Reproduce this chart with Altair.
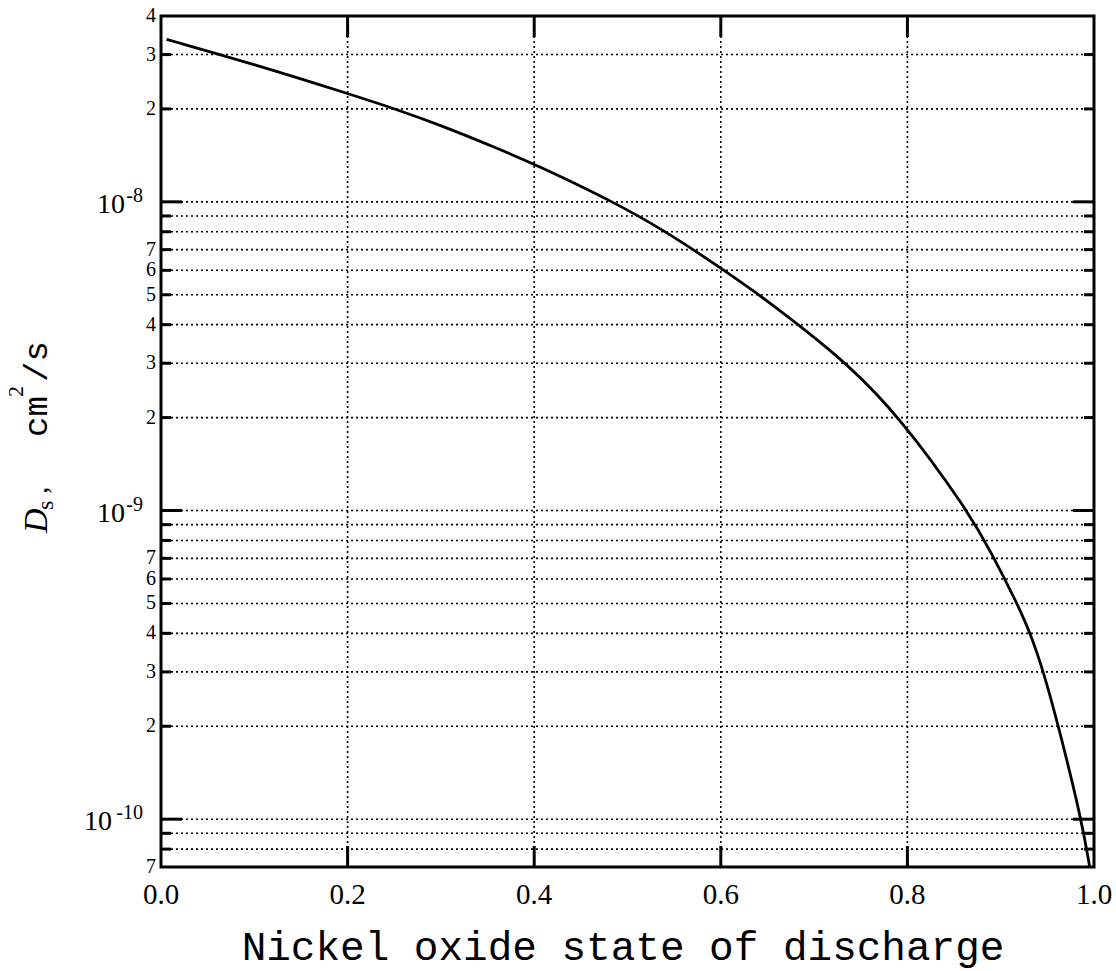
import altair as alt
import pandas as pd

# Solid-phase diffusion coefficient vs. nickel oxide state of discharge
sod = [0.006, 0.1, 0.203, 0.251, 0.3, 0.364, 0.404, 0.485, 0.54, 0.6, 0.65,
       0.683, 0.735, 0.7925, 0.8646, 0.89, 0.9176, 0.9318, 0.946, 0.962,
       0.9865, 0.9954]
ds = [3.36e-8, 2.79e-8, 2.23e-8, 2.0e-8, 1.77e-8, 1.476e-8, 1.31e-8, 1.0e-8,
      8.06e-9, 6.11e-9, 4.78e-9, 4.0e-9, 3.0e-9, 2.0e-9, 1.0e-9, 7.3e-10,
      5.0e-10, 4.0e-10, 3.0e-10, 2.0e-10, 1.0e-10, 7.0e-11]

# Axis ticks
x_ticks = [0.0, 0.2, 0.4, 0.6, 0.8, 1.0]
x_inner_ticks = [0.2, 0.4, 0.6, 0.8]
decades = [1e-8, 1e-9, 1e-10]
decade_exp = ["-8", "-9", "-10"]
minor = [3e-8, 2e-8,
         9e-9, 8e-9, 7e-9, 6e-9, 5e-9, 4e-9, 3e-9, 2e-9,
         9e-10, 8e-10, 7e-10, 6e-10, 5e-10, 4e-10, 3e-10, 2e-10,
         9e-11, 8e-11]
minor_label_vals = [4e-8, 3e-8, 2e-8,
                    7e-9, 6e-9, 5e-9, 4e-9, 3e-9, 2e-9,
                    7e-10, 6e-10, 5e-10, 4e-10, 3e-10, 2e-10,
                    7e-11]
minor_label_text = ["4", "3", "2",
                    "7", "6", "5", "4", "3", "2",
                    "7", "6", "5", "4", "3", "2",
                    "7"]

W, H = 933, 851
SERIF = "Liberation Serif"
MONO = "Liberation Mono"

xs = alt.Scale(domain=[0, 1], nice=False, zero=False)
ys = alt.Scale(type="log", domain=[7e-11, 4e-8], nice=False)

curve_df = pd.DataFrame({"x": sod, "v": ds})
major_df = pd.DataFrame({"v": decades, "exp": decade_exp})
minor_df = pd.DataFrame({"v": minor})
hgrid_df = pd.DataFrame({"v": decades + minor})
mlab_df = pd.DataFrame({"v": minor_label_vals, "t": minor_label_text})
xt_df = pd.DataFrame({"x": x_inner_ticks})
xlab_df = pd.DataFrame({"x": x_ticks, "t": [f"{v:.1f}" for v in x_ticks]})

X = lambda: alt.X("x:Q", scale=xs, axis=None)
Y = lambda: alt.Y("v:Q", scale=ys, axis=None)

grid_dash = [2, 3]

# dotted grid
hgrid = alt.Chart(hgrid_df).mark_rule(
    color="black", strokeWidth=1.6, strokeDash=grid_dash
).encode(y=Y(), x=alt.value(0), x2=alt.value(W))
vgrid = alt.Chart(xt_df).mark_rule(
    color="black", strokeWidth=1.6, strokeDash=grid_dash
).encode(x=X(), y=alt.value(0), y2=alt.value(H))

curve = alt.Chart(curve_df).mark_line(
    color="black", strokeWidth=2.8, interpolate="basis"
).encode(x=X(), y=Y())


def yrule(df, x0, x1):
    return alt.Chart(df).mark_rule(color="black", strokeWidth=3).encode(
        y=Y(), x=alt.value(x0), x2=alt.value(x1))


def xrule(y0, y1):
    return alt.Chart(xt_df).mark_rule(color="black", strokeWidth=3).encode(
        x=X(), y=alt.value(y0), y2=alt.value(y1))


ticks = [
    yrule(major_df, 0, 21), yrule(major_df, W, W - 21),
    yrule(minor_df, 0, 10), yrule(minor_df, W, W - 10),
    xrule(H, H - 21), xrule(0, 21),
]

x_labels = alt.Chart(xlab_df).mark_text(
    font=SERIF, fontSize=29, align="center", baseline="alphabetic",
    color="black"
).encode(x=X(), y=alt.value(H + 37), text="t:N")

minor_labels = alt.Chart(mlab_df).mark_text(
    font=SERIF, fontSize=20, align="right", baseline="middle", color="black"
).encode(y=Y(), x=alt.value(-5), text="t:N")

ten_short = alt.Chart(major_df).transform_filter(
    "length(datum.exp) < 3"
).mark_text(
    font=SERIF, fontSize=28, align="right", baseline="alphabetic", dy=11,
    color="black", text="10"
).encode(y=Y(), x=alt.value(-36))

ten_long = alt.Chart(major_df).transform_filter(
    "length(datum.exp) >= 3"
).mark_text(
    font=SERIF, fontSize=28, align="right", baseline="alphabetic", dy=11,
    color="black", text="10"
).encode(y=Y(), x=alt.value(-49))

exp_labels = alt.Chart(major_df).mark_text(
    font=SERIF, fontSize=20, align="right", baseline="alphabetic", dy=0,
    color="black"
).encode(y=Y(), x=alt.value(-18), text="exp:N")


def piece(text, x, y, font, size, angle=0, style="normal", align="left"):
    return alt.Chart(alt.Data(values=[{}])).mark_text(
        text=text, font=font, fontSize=size, angle=angle, fontStyle=style,
        align=align, baseline="alphabetic", color="black"
    ).encode(x=alt.value(x), y=alt.value(y))


# x-axis title
x_title = piece("Nickel oxide state of discharge", 462, 944, MONO, 41,
                align="center")

# y-axis title: D_s, cm^2/s (rotated)
y_title = [
    piece("D", -114, 517, SERIF, 34, angle=270, style="italic"),
    piece("s", -108, 494, SERIF, 24, angle=270),
    piece(",", -114, 478, SERIF, 30, angle=270),
    piece("cm", -114, 421, MONO, 34, angle=270),
    piece("2", -138, 381, SERIF, 22, angle=270),
    piece("/s", -114, 366, MONO, 34, angle=270),
]

chart = alt.layer(
    hgrid, vgrid, curve, *ticks, x_labels, minor_labels, ten_short, ten_long,
    exp_labels, x_title, *y_title
).properties(
    width=W, height=H,
    autosize=alt.AutoSizeParams(type="none"),
    padding={"left": 161, "top": 16, "right": 22, "bottom": 104},
    background="white",
).configure_view(stroke="black", strokeWidth=3)

chart.save("out.html", embed_options={"renderer": "svg", "actions": False})
